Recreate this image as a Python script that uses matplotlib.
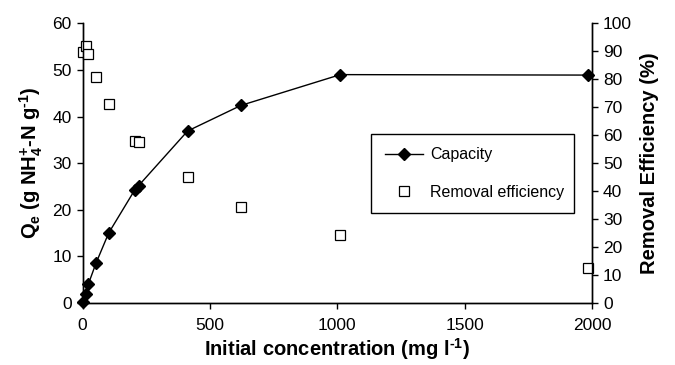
import matplotlib.pyplot as plt
from matplotlib.lines import Line2D

plt.rcParams['font.family'] = ['Liberation Sans', 'DejaVu Sans']
plt.rcParams['mathtext.fontset'] = 'custom'
plt.rcParams['mathtext.rm'] = 'Liberation Sans'
plt.rcParams['mathtext.bf'] = 'Liberation Sans:bold'

# Data
conc = [1, 12, 22, 52, 102, 205, 220, 412, 622, 1012, 1985]
capacity = [0.3, 2.0, 4.0, 8.5, 15.0, 24.3, 25.2, 36.9, 42.4, 49.0, 48.9]
removal = [89.8, 91.9, 88.9, 80.8, 71.3, 58.0, 57.6, 44.9, 34.4, 24.3, 12.4]

x_ticks = [0, 500, 1000, 1500, 2000]
q_ticks = list(range(0, 61, 10))
r_ticks = list(range(0, 101, 10))

fig = plt.figure(figsize=(6.75, 3.65), dpi=100)
ax = fig.add_axes([0.1225, 0.170, 0.7545, 0.766])
ax2 = ax.twinx()

ax.plot(conc, capacity, color='black', lw=1, marker='D', ms=6, mfc='black', mec='black', clip_on=False, zorder=3)
ax2.plot(conc, removal, ls='none', marker='s', ms=7, mfc='white', mec='black', mew=0.9, clip_on=False)

ax.set_xlim(0, 2000)
ax.set_ylim(0, 60)
ax2.set_ylim(0, 100)
ax.set_xticks(x_ticks)
ax.set_yticks(q_ticks)
ax2.set_yticks(r_ticks)

for a in (ax, ax2):
    a.spines['top'].set_visible(False)
    a.tick_params(labelsize=12.5, length=4, width=1, colors='black', pad=4)
    for s in a.spines.values():
        s.set_linewidth(1)
ax.tick_params(axis='x', pad=7)

hy = '\u2010'
ax.set_xlabel('Initial concentration (mg l$^\\mathbf{' + hy + '1}$)', fontsize=14.5, fontweight='bold', labelpad=2)
ax.set_ylabel('Q$_\\mathbf{e}$ (g NH$_\\mathbf{4}^\\mathbf{+}$-N g$^\\mathbf{' + hy + '1}$)', fontsize=14.5, fontweight='bold', labelpad=5)
ax2.set_ylabel('Removal Efficiency (%)', fontsize=14.5, fontweight='bold', labelpad=6)

handles = [
    Line2D([], [], color='black', lw=1, marker='D', ms=6, mfc='black'),
    Line2D([], [], ls='none', marker='s', ms=7, mfc='white', mec='black', mew=0.9),
]
leg = ax2.legend(handles, ['Capacity', 'Removal efficiency'], loc='lower left',
                 bbox_to_anchor=(0.567, 0.321, 0.398, 0.275), mode='expand',
                 borderaxespad=0, fontsize=11.5, labelspacing=1.4, handlelength=2.4,
                 borderpad=0.85, handletextpad=0.4,
                 fancybox=False, framealpha=1, edgecolor='black')
leg.get_frame().set_linewidth(1)

fig.savefig('out.png', dpi=100)
